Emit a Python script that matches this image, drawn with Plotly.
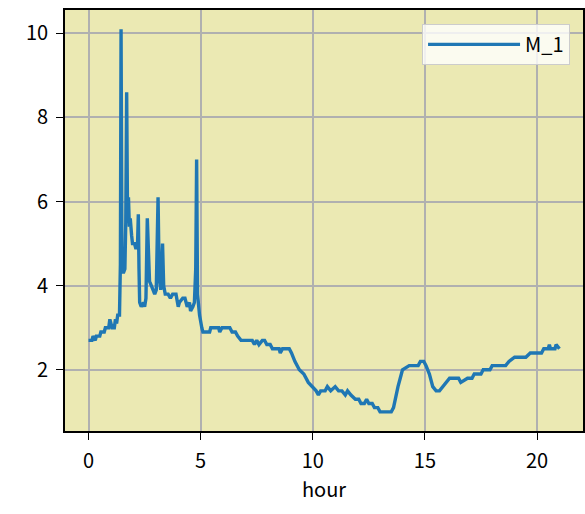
import plotly.graph_objects as go

series_name = "M_1"
x_label = "hour"
x_ticks = [0, 5, 10, 15, 20]
y_ticks = [2, 4, 6, 8, 10]

hours = [
    0.00, 0.15, 0.20, 0.30, 0.35, 0.50, 0.55, 0.70, 0.75, 0.90, 0.95, 1.00, 1.05, 1.15, 1.20, 1.25, 1.30, 1.38,
    1.42, 1.45, 1.49, 1.55, 1.62, 1.66, 1.70, 1.74, 1.78, 1.82, 1.86, 1.92, 1.96, 2.05, 2.10, 2.18,
    2.22, 2.25, 2.28, 2.35, 2.45, 2.50, 2.56, 2.62, 2.67, 2.72, 2.80, 2.88, 2.95, 3.02, 3.10, 3.15,
    3.22, 3.30, 3.35, 3.42, 3.55, 3.65, 3.75, 3.90, 4.00, 4.05, 4.20, 4.30, 4.40, 4.50, 4.55, 4.65,
    4.72, 4.78, 4.82, 4.86, 4.95, 5.05, 5.10, 5.40, 5.45, 5.60, 5.80, 5.85, 5.95, 6.30, 6.40, 6.55,
    6.65, 6.80, 7.00, 7.30, 7.40, 7.50, 7.60, 7.75, 7.85, 7.95, 8.10, 8.20, 8.50, 8.55, 8.65, 8.95,
    9.05, 9.20, 9.40, 9.60, 9.80, 10.00, 10.15, 10.25, 10.35, 10.55, 10.65, 10.80, 11.00, 11.15,
    11.30, 11.45, 11.55, 11.70, 11.90, 12.05, 12.15, 12.30, 12.40, 12.50, 12.65, 12.75, 12.90,
    13.00, 13.50, 13.60, 13.70, 13.80, 13.90, 14.00, 14.30, 14.70, 14.80, 14.95, 15.05, 15.20,
    15.35, 15.50, 15.65, 15.80, 15.95, 16.10, 16.50, 16.60, 16.90, 17.10, 17.20, 17.50, 17.60,
    17.90, 18.00, 18.60, 18.75, 19.00, 19.50, 19.70, 20.20, 20.30, 20.50, 20.55, 20.60, 20.80,
    20.85, 21.00,
]
values = [
    2.7, 2.7, 2.8, 2.7, 2.8, 2.8, 2.9, 2.9, 3.0, 3.0, 3.2, 3.1, 3.0, 3.0, 3.2, 3.1, 3.3, 3.3,
    4.5, 10.1, 4.4, 4.3, 4.4, 5.5, 8.6, 5.5, 6.1, 5.4, 5.6, 5.2, 5.0, 5.0, 4.9, 4.9,
    5.7, 4.4, 3.6, 3.5, 3.6, 3.5, 3.7, 5.6, 4.5, 4.1, 4.0, 3.9, 3.8, 3.9, 6.1, 4.2,
    3.9, 5.0, 4.0, 3.8, 3.8, 3.7, 3.8, 3.8, 3.5, 3.6, 3.7, 3.7, 3.5, 3.6, 3.4, 3.5,
    3.6, 4.4, 7.0, 3.8, 3.3, 3.0, 2.9, 2.9, 3.0, 3.0, 3.0, 2.9, 3.0, 3.0, 2.9, 2.9,
    2.8, 2.7, 2.7, 2.7, 2.6, 2.7, 2.6, 2.7, 2.7, 2.6, 2.6, 2.5, 2.5, 2.4, 2.5, 2.5,
    2.4, 2.2, 2.0, 1.9, 1.7, 1.6, 1.5, 1.4, 1.5, 1.5, 1.6, 1.5, 1.6, 1.5,
    1.5, 1.4, 1.5, 1.4, 1.3, 1.3, 1.2, 1.2, 1.3, 1.2, 1.2, 1.1, 1.1,
    1.0, 1.0, 1.1, 1.4, 1.6, 1.8, 2.0, 2.1, 2.1, 2.2, 2.2, 2.1, 1.9,
    1.6, 1.5, 1.5, 1.6, 1.7, 1.8, 1.8, 1.7, 1.8, 1.8, 1.9, 1.9, 2.0,
    2.0, 2.1, 2.1, 2.2, 2.3, 2.3, 2.4, 2.4, 2.5, 2.5, 2.6, 2.5, 2.5,
    2.6, 2.5,
]

font_family = "Noto Sans CJK JP, IPAexGothic, sans-serif"
fs = 20

fig = go.Figure()
fig.add_trace(go.Scatter(
    x=hours, y=values, mode="lines", name=series_name,
    line=dict(color="#1f77b4", width=3.4),
))

axis_common = dict(
    showgrid=True, gridcolor="#b0b0b0", gridwidth=1.5,
    showline=True, linecolor="black", linewidth=1.8, mirror=True,
    ticks="outside", ticklen=7, tickwidth=1.3, tickcolor="black",
    zeroline=False, automargin=False, ticklabelstandoff=4,
    tickfont=dict(size=fs, color="black", family=font_family),
)

fig.update_xaxes(range=[-1.05, 22.05], tickvals=x_ticks,
                 title=dict(text=x_label, font=dict(size=fs, color="black", family=font_family), standoff=8),
                 **axis_common)
fig.update_yaxes(range=[0.545, 10.555], tickvals=y_ticks, **axis_common)

fig.update_layout(
    width=585, height=514,
    margin=dict(l=65, r=2, t=10, b=83, autoexpand=False),
    plot_bgcolor="#EBE9B3",
    paper_bgcolor="white",
    font=dict(family=font_family, color="black", size=fs),
    showlegend=True,
    legend=dict(
        x=0.975, y=0.967, xanchor="right", yanchor="top",
        bgcolor="rgba(255,255,255,0.8)", bordercolor="#cccccc", borderwidth=1,
        itemwidth=92, font=dict(size=fs, family=font_family),
    ),
)

fig.write_html("out.html", config={"displayModeBar": False},
               post_script="document.body.style.margin='0';")
